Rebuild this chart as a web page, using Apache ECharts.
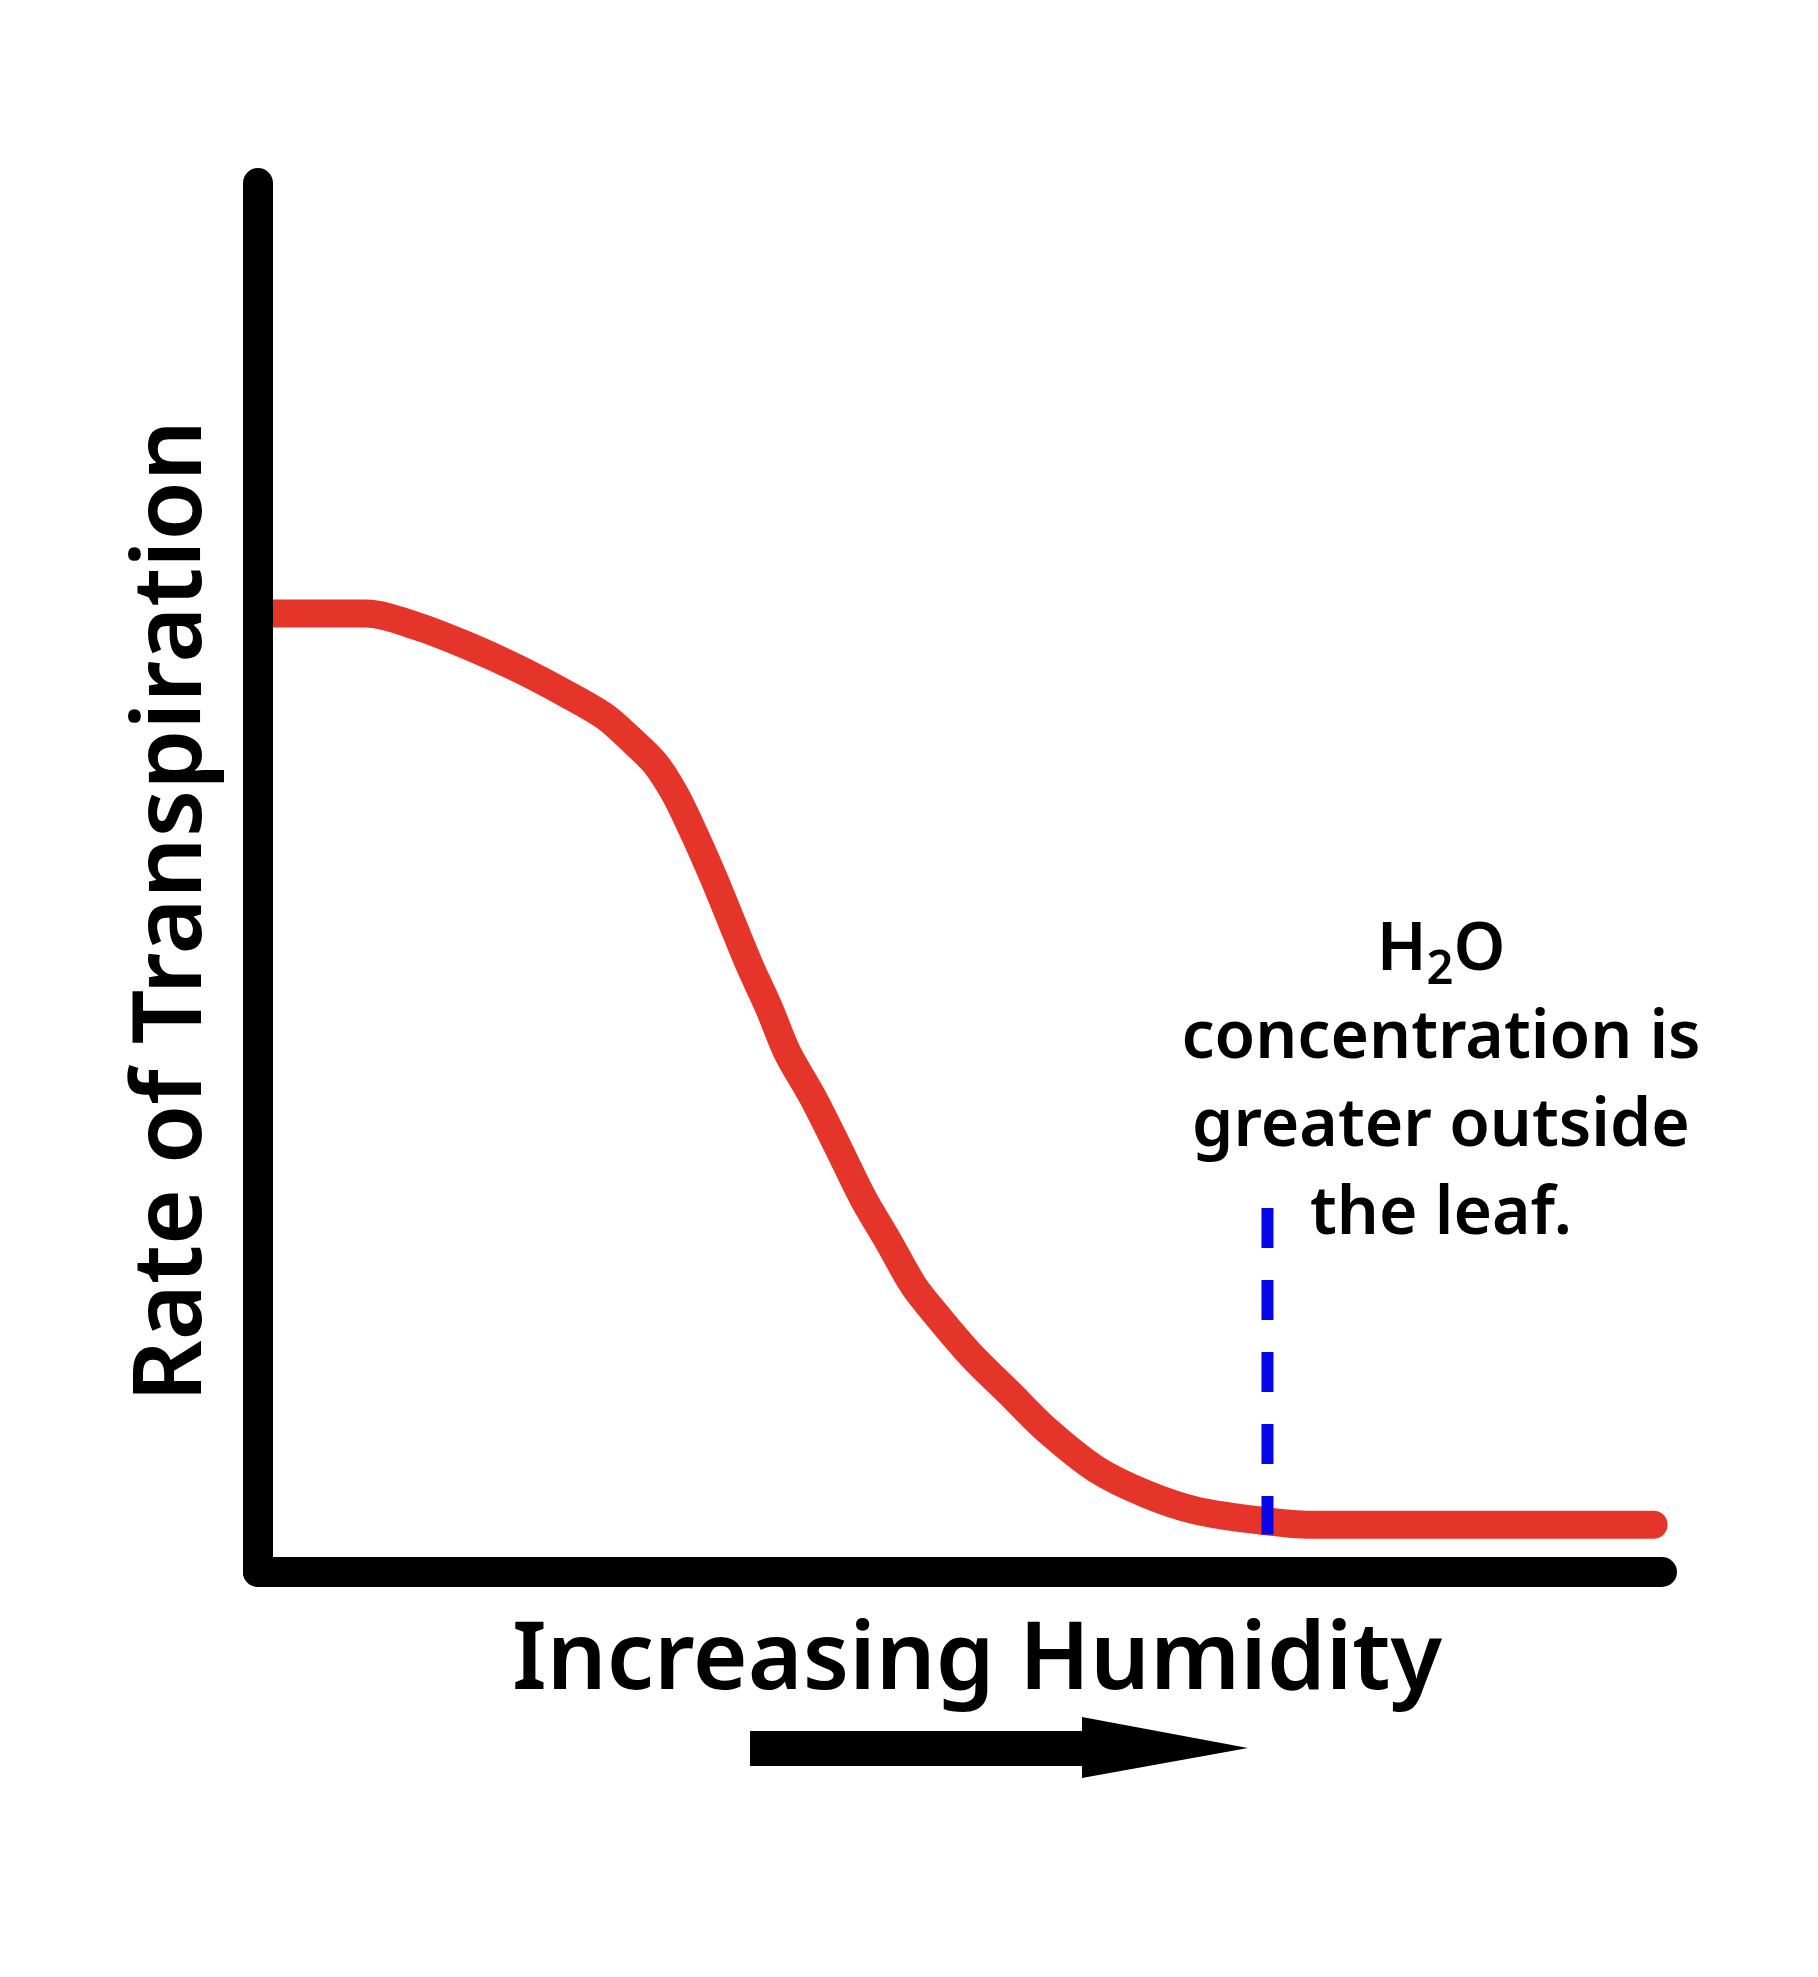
<!DOCTYPE html>
<html><head><meta charset="utf-8">
<script src="https://cdn.jsdelivr.net/npm/echarts@6/dist/echarts.min.js"></script>
<style>html,body{margin:0;padding:0;background:#fff}#c{width:1818px;height:1977px}</style>
</head><body><div id="c"></div>
<script>
// Humidity (0-100, relative) and rate of transpiration (0-100, relative)
const humidity = [0, 7.7, 11.3, 14.9, 18.4, 22.0, 24.7, 26.5, 28.3, 29.7, 31.0, 32.4, 33.7, 35.0, 36.4, 37.7, 39.5, 41.3, 43.1, 44.9, 46.7, 48.5, 50.8, 53.5, 56.2, 59.7, 63.3, 66.9, 71.4, 75.0, 99.4];
const transpiration = [69.0, 69.0, 68.1, 66.7, 65.1, 63.2, 61.6, 60.0, 58.2, 56.0, 53.3, 50.1, 46.9, 43.7, 40.6, 37.4, 34.2, 30.6, 26.9, 23.8, 20.6, 18.3, 15.6, 12.9, 10.2, 7.4, 5.6, 4.4, 3.7, 3.4, 3.4];
const thresholdHumidity = [71.9, 71.9];
const thresholdRate = [26.2, 2.7];
const xLabel = 'Increasing Humidity';
const yLabel = 'Rate of Transpiration';
const noteLines = ['{n|H}{s|2}{n|O}', '{n|concentration is}', '{n|greater outside}', '{n|the leaf.}'];

const FONT = '"Noto Sans", "Open Sans", sans-serif';
const chart = echarts.init(document.getElementById('c'), null, {renderer: 'canvas'});
chart.setOption({
  backgroundColor: '#ffffff',
  animation: false,
  grid: {left: 258, top: 183, width: 1404, height: 1389},
  xAxis: {
    type: 'value', min: 0, max: 100, z: 10,
    axisLine: {show: true, lineStyle: {color: '#000', width: 30, cap: 'round'}},
    axisTick: {show: false}, axisLabel: {show: false}, splitLine: {show: false}
  },
  yAxis: {
    type: 'value', min: 0, max: 100, z: 10,
    axisLine: {show: true, lineStyle: {color: '#000', width: 30, cap: 'round'}},
    axisTick: {show: false}, axisLabel: {show: false}, splitLine: {show: false}
  },
  series: [
    {
      type: 'line', smooth: 0.3, symbol: 'none',
      data: humidity.map((h, i) => [h, transpiration[i]]),
      lineStyle: {color: '#e5352a', width: 28, cap: 'round', join: 'round'},
      z: 3
    },
    {
      type: 'line', symbol: 'none',
      data: thresholdHumidity.map((h, i) => [h, thresholdRate[i]]),
      lineStyle: {color: '#0606e6', width: 12, type: [40, 32], cap: 'butt'},
      z: 4
    }
  ],
  graphic: [
    {
      type: 'text', x: 1441, y: 1083,
      style: {
        text: noteLines.join('\n'),
        align: 'center', verticalAlign: 'middle',
        fill: '#000',
        rich: {
          n: {fontFamily: FONT, fontSize: 66, fontWeight: 600, lineHeight: 88, color: '#000'},
          s: {fontFamily: FONT, fontSize: 47, fontWeight: 600, lineHeight: 88, padding: [40, 0, 0, 0], color: '#000'}
        }
      }
    },
    {
      type: 'text', x: 977, y: 1662,
      style: {text: xLabel, font: '600 94px ' + FONT, fill: '#000', align: 'center', verticalAlign: 'middle'}
    },
    {
      type: 'text', x: 174, y: 911, rotation: Math.PI / 2,
      style: {text: yLabel, font: '600 96px ' + FONT, fill: '#000', align: 'center', verticalAlign: 'middle'}
    },
    {
      type: 'polygon',
      shape: {points: [[750, 1731], [1082, 1731], [1082, 1717], [1248, 1748], [1082, 1778], [1082, 1766], [750, 1766]]},
      style: {fill: '#000'}
    }
  ]
});
</script>
</body></html>
